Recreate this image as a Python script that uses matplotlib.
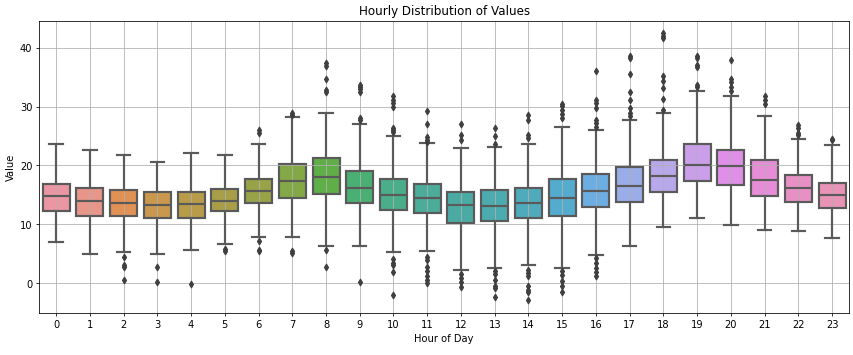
import numpy as np
import matplotlib
matplotlib.use("Agg")
import matplotlib.pyplot as plt
import seaborn as sns

hours = list(range(24))

# box stats
whislo = [6.9, 5.0, 5.3, 5.0, 5.7, 6.7, 7.8, 7.9, 6.25, 6.25, 5.2, 5.4,
          2.25, 2.5, 3.1, 2.5, 4.8, 6.35, 9.6, 11.0, 9.8, 9.1, 8.8, 7.6]
q1 = [12.2, 11.45, 11.45, 11.05, 11.0, 12.2, 13.7, 14.5, 15.2, 13.65, 12.5, 12.0,
      10.25, 10.5, 11.0, 11.45, 13.0, 13.85, 15.55, 17.3, 16.6, 14.85, 13.85, 12.8]
med = [14.75, 13.9, 13.7, 13.2, 13.4, 13.9, 15.7, 17.3, 18.0, 16.1, 15.0, 14.4,
       13.2, 13.05, 13.7, 14.4, 15.7, 16.55, 18.15, 20.0, 19.85, 17.6, 16.1, 14.9]
q3 = [16.85, 16.2, 15.9, 15.55, 15.55, 16.05, 17.75, 20.2, 21.2, 19.0, 17.65, 16.8,
      15.55, 15.9, 16.2, 17.65, 18.5, 19.7, 20.9, 23.7, 22.7, 20.9, 18.3, 17.1]
whishi = [23.7, 22.7, 21.7, 20.65, 22.2, 21.7, 23.7, 28.2, 28.9, 27.0, 24.95, 23.8,
          22.9, 23.1, 23.6, 26.5, 26.1, 27.7, 29.0, 32.6, 31.75, 28.35, 24.45, 23.4]
fliers = [
    [],
    [],
    [4.5, 3.1, 2.7, 0.55],
    [2.8, 0.1],
    [-0.2],
    [5.8, 5.4],
    [26.0, 25.6, 7.1, 5.7, 5.5],
    [28.9, 28.5, 5.4, 5.1],
    [37.4, 36.9, 34.7, 32.9, 32.5, 5.7, 2.7],
    [33.75, 33.4, 33.0, 32.5, 28.1, 27.7, 0.2],
    [31.8, 31.2, 30.6, 30.0, 26.4, 26.0, 25.7, 4.1, 3.4, 3.1, 1.8, -2.1],
    [29.3, 27.1, 24.8, 24.4, 24.0, 4.5, 3.9, 2.8, 2.1, 1.25, 0.55, 0.0],
    [27.06, 25.2, 24.3, 1.5, 0.8, 0.1, -0.7],
    [26.4, 25.0, 23.7, 2.0, 1.5, 0.55, -0.55, -0.9, -2.3],
    [28.65, 27.8, 25.2, 24.6, 2.25, 1.7, 1.2, -0.5, -1.1, -1.6, -2.8],
    [30.4, 30.1, 29.4, 28.7, 28.1, 2.0, 1.3, 0.3, -0.55, -1.5],
    [36.0, 31.2, 30.6, 29.8, 27.8, 27.2, 26.6, 4.3, 3.4, 2.5, 1.8, 1.25],
    [38.7, 38.3, 35.6, 32.45, 31.1, 29.8, 29.0, 28.4],
    [42.5, 42.0, 41.6, 35.2, 34.4, 33.2, 31.3, 29.4],
    [38.7, 38.3, 37.15, 36.8, 33.75, 33.4],
    [38.0, 34.7, 34.2, 33.4, 32.7],
    [31.75, 31.1, 30.4],
    [26.8, 26.4, 25.5, 25.2],
    [24.5, 24.3],
]

stats = []
for i in range(len(hours)):
    stats.append(dict(whislo=whislo[i], q1=q1[i], med=med[i], q3=q3[i],
                      whishi=whishi[i], fliers=fliers[i], label=str(hours[i])))

colors = [sns.desaturate(c, 0.75) for c in sns.husl_palette(len(hours), l=.7)]
gray = "#5a5a5a"

fig, ax = plt.subplots(figsize=(12, 5), dpi=71.1)
fig.subplots_adjust(left=0.046, right=0.995, top=0.94, bottom=0.118)

bp = ax.bxp(stats, positions=hours, widths=0.8, patch_artist=True,
            boxprops=dict(edgecolor=gray, linewidth=2.2),
            whiskerprops=dict(color=gray, linewidth=2.2),
            capprops=dict(color=gray, linewidth=2.2),
            medianprops=dict(color=gray, linewidth=2.2),
            flierprops=dict(marker="d", markerfacecolor="#3f3f3f",
                            markeredgecolor="#3f3f3f", markersize=5))
for patch, c in zip(bp["boxes"], colors):
    patch.set_facecolor(c)
    patch.set_zorder(1)

ax.set_xlim(-0.5, 23.5)
ax.set_ylim(-5.1, 44.6)
ax.set_xticks(hours)
ax.set_xticklabels([str(h) for h in hours])
ax.grid(True)
ax.set_title("Hourly Distribution of Values")
ax.set_xlabel("Hour of Day")
ax.set_ylabel("Value")

fig.savefig("out.png", dpi=71.1)
